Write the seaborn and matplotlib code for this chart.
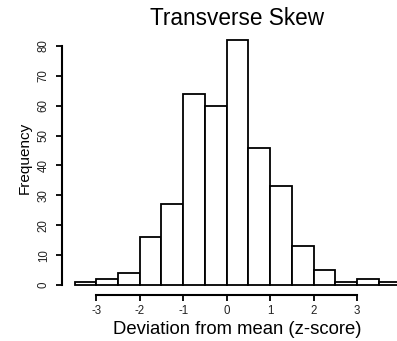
import matplotlib
matplotlib.use("Agg")
import matplotlib.pyplot as plt
import seaborn as sns
import pandas as pd

# Data
bin_edges = [-3.5, -3.0, -2.5, -2.0, -1.5, -1.0, -0.5, 0.0, 0.5, 1.0, 1.5, 2.0, 2.5, 3.0, 3.5, 4.0]
counts = [1, 2, 4, 16, 27, 64, 60, 82, 46, 33, 13, 5, 1, 2, 1]
x_ticks = [-3, -2, -1, 0, 1, 2, 3]
y_ticks = [0, 10, 20, 30, 40, 50, 60, 70, 80]
title = "Transverse Skew"
x_label = "Deviation from mean (z-score)"
y_label = "Frequency"

centers = [(a + b) / 2 for a, b in zip(bin_edges[:-1], bin_edges[1:])]
df = pd.DataFrame({"z": centers, "n": counts})

sns.set_style("ticks")
plt.rcParams["font.family"] = ["Liberation Sans", "DejaVu Sans"]
plt.rcParams["text.color"] = "black"
plt.rcParams["xtick.color"] = "black"
plt.rcParams["ytick.color"] = "black"
plt.rcParams["xtick.labelcolor"] = "#222222"
plt.rcParams["ytick.labelcolor"] = "#222222"

fig = plt.figure(figsize=(3.97, 3.41), dpi=100)
W, H = 397, 341
left_px, right_px, top_px, bottom_px = 61.5, 413.5, 30, 295
ax = fig.add_axes([left_px / W, (H - bottom_px) / H,
                   (right_px - left_px) / W, (bottom_px - top_px) / H])

sns.histplot(data=df, x="z", weights="n", bins=bin_edges, ax=ax,
             color="white", edgecolor="black", linewidth=1.3, alpha=1.0)

ax.set_xlim(-3.8, 4.3)
ax.set_ylim(-3.28, 85.28)
ax.set_xticks(x_ticks)
ax.set_xticklabels([str(v) for v in x_ticks], fontsize=8.3)
ax.set_yticks(y_ticks)
ax.set_yticklabels([str(v) for v in y_ticks], fontsize=8.3, rotation=90, va="center")
ax.spines["left"].set_bounds(0, 80)
ax.spines["bottom"].set_bounds(-3, 3)
for s in ["top", "right"]:
    ax.spines[s].set_visible(False)
for s in ["left", "bottom"]:
    ax.spines[s].set_linewidth(1.5)
    ax.spines[s].set_color("black")
ax.tick_params(axis="both", length=4.5, width=1.3, pad=3)
ax.tick_params(axis="y", pad=4)

ax.set_xlabel("")
ax.set_ylabel("")
fig.text(237.5 / W, (H - 330) / H, x_label, ha="center", va="center", fontsize=13.3, color="black")
fig.text(25 / W, (H - 158) / H, y_label, ha="center", va="center", rotation=90, fontsize=11, color="black")
fig.text(237.5 / W, (H - 18.5) / H, title, ha="center", va="center", fontsize=16.3, color="black")

fig.savefig("out.png", dpi=100, facecolor="white")
